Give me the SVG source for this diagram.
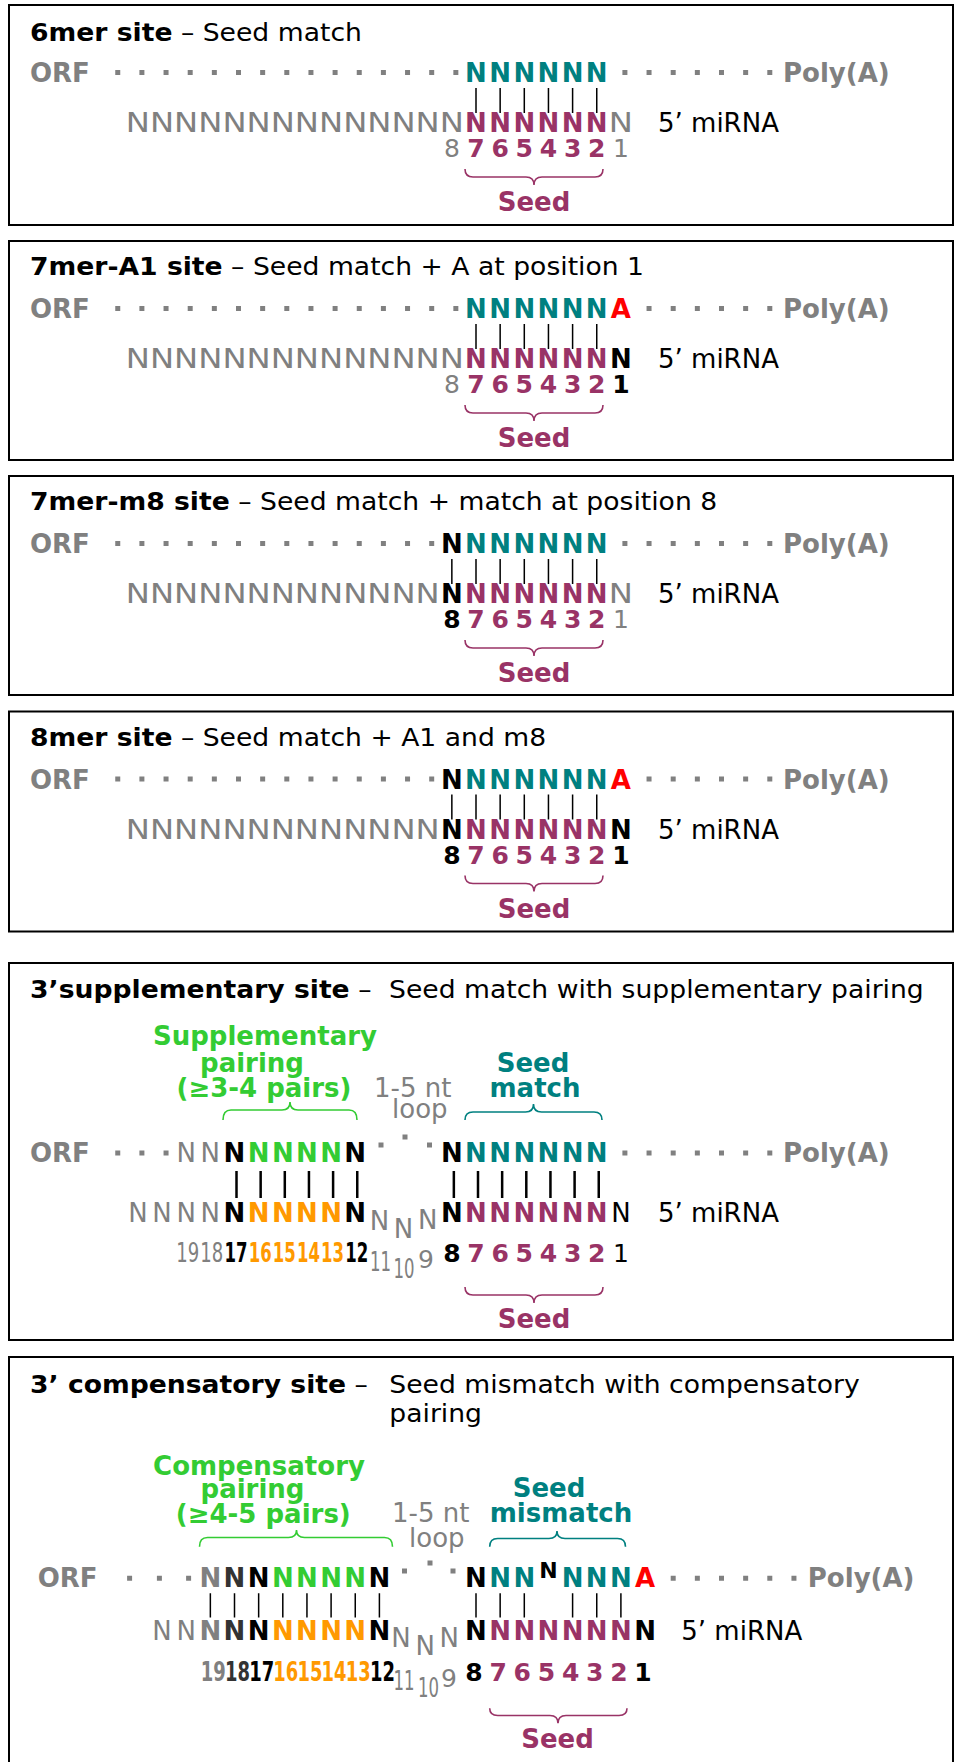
<svg xmlns="http://www.w3.org/2000/svg" width="954" height="1762" viewBox="0 0 954 1762">
<style>
text{font-family:'DejaVu Sans','Noto Sans',sans-serif;fill:#000}
.b{font-weight:bold}
.t{font-size:24.5px}
.l{font-size:26px}
.n{font-size:26px;text-anchor:middle}
.d{font-size:25px;text-anchor:middle}
.ds{font-size:27px}
.gray{fill:#808080}
.teal{fill:#008080}
.mag{fill:#993366}
.red{fill:#ff0000}
.grn{fill:#33cc33}
.org{fill:#ff9900}
.dk{fill:#333333}
.blk{fill:#000}
.box{fill:none;stroke:#000;stroke-width:2}
.dot{fill:#808080}
.pair{stroke:#000;stroke-width:1.5;fill:none}
.pair2{stroke:#000;stroke-width:2.5;fill:none}
.brace{fill:none;stroke-width:1.6}
.bm{stroke:#993366}
.bg{stroke:#33cc33}
.bt{stroke:#008080}
</style>
<rect width="954" height="1762" fill="#fff"/>

<!-- 6mer site -->
<g id="site-6mer">
<rect class="box" x="9" y="5" width="944" height="220"/>
<text class="t" transform="translate(30 41) scale(1.087 1)"><tspan class="b">6mer site</tspan> – Seed match</text>
<text class="l b gray" x="30" y="82">ORF</text>
<path class="dot" d="M115.25 70h5v5h-5zM139.4 70h5v5h-5zM163.55 70h5v5h-5zM187.7 70h5v5h-5zM211.85 70h5v5h-5zM236 70h5v5h-5zM260.15 70h5v5h-5zM284.3 70h5v5h-5zM308.45 70h5v5h-5zM332.6 70h5v5h-5zM356.75 70h5v5h-5zM380.9 70h5v5h-5zM405.05 70h5v5h-5zM429.2 70h5v5h-5zM453.35 70h5v5h-5zM622.4 70h5v5h-5zM646.55 70h5v5h-5zM670.7 70h5v5h-5zM694.85 70h5v5h-5zM719 70h5v5h-5zM743.15 70h5v5h-5zM767.3 70h5v5h-5z"/>
<text class="n b teal" y="82" x="476 500.15 524.3 548.45 572.6 596.75">NNNNNN</text>
<text class="l b gray" x="783" y="82">Poly(A)</text>
<text class="l gray" x="125.8" y="132" textLength="338.1" lengthAdjust="spacingAndGlyphs">NNNNNNNNNNNNNN</text>
<text class="n b mag" y="132" x="476 500.15 524.3 548.45 572.6 596.75">NNNNNN</text>
<text class="l gray" x="608.8" y="132" textLength="24.15" lengthAdjust="spacingAndGlyphs">N</text>
<text class="l" x="658" y="132">5’ miRNA</text>
<text class="d" y="157"><tspan class="gray" x="451.85">8</tspan><tspan class="b mag" x="476 500.15 524.3 548.45 572.6 596.75">765432</tspan><tspan class="gray" x="620.9">1</tspan></text>
<path class="brace bm" d="M465 169Q465 177 473 177L526 177Q534 177 534 185Q534 177 542 177L595 177Q603 177 603 169"/>
<text class="n b mag" x="534" y="211">Seed</text>
</g>

<!-- 7mer-A1 site -->
<g id="site-7mer-a1" transform="translate(0 236)">
<rect class="box" x="9" y="5" width="944" height="219"/>
<text class="t" transform="translate(30 39) scale(1.087 1)"><tspan class="b">7mer-A1 site</tspan> – Seed match + A at position 1</text>
<text class="l b gray" x="30" y="82">ORF</text>
<path class="dot" d="M115.25 70h5v5h-5zM139.4 70h5v5h-5zM163.55 70h5v5h-5zM187.7 70h5v5h-5zM211.85 70h5v5h-5zM236 70h5v5h-5zM260.15 70h5v5h-5zM284.3 70h5v5h-5zM308.45 70h5v5h-5zM332.6 70h5v5h-5zM356.75 70h5v5h-5zM380.9 70h5v5h-5zM405.05 70h5v5h-5zM429.2 70h5v5h-5zM453.35 70h5v5h-5zM646.55 70h5v5h-5zM670.7 70h5v5h-5zM694.85 70h5v5h-5zM719 70h5v5h-5zM743.15 70h5v5h-5zM767.3 70h5v5h-5z"/>
<text class="n b" y="82"><tspan class="teal" x="476 500.15 524.3 548.45 572.6 596.75">NNNNNN</tspan><tspan class="red" x="620.9">A</tspan></text>
<text class="l b gray" x="783" y="82">Poly(A)</text>
<text class="l gray" x="125.8" y="132" textLength="338.1" lengthAdjust="spacingAndGlyphs">NNNNNNNNNNNNNN</text>
<text class="n b" y="132"><tspan class="mag" x="476 500.15 524.3 548.45 572.6 596.75">NNNNNN</tspan><tspan x="620.9">N</tspan></text>
<text class="l" x="658" y="132">5’ miRNA</text>
<text class="d" y="157"><tspan class="gray" x="451.85">8</tspan><tspan class="b mag" x="476 500.15 524.3 548.45 572.6 596.75">765432</tspan><tspan class="b" x="620.9">1</tspan></text>
<path class="brace bm" d="M465 169Q465 177 473 177L526 177Q534 177 534 185Q534 177 542 177L595 177Q603 177 603 169"/>
<text class="n b mag" x="534" y="211">Seed</text>
</g>

<!-- 7mer-m8 site -->
<g id="site-7mer-m8" transform="translate(0 471)">
<rect class="box" x="9" y="5" width="944" height="219"/>
<text class="t" transform="translate(30 39) scale(1.087 1)"><tspan class="b">7mer-m8 site</tspan> – Seed match + match at position 8</text>
<text class="l b gray" x="30" y="82">ORF</text>
<path class="dot" d="M115.25 70h5v5h-5zM139.4 70h5v5h-5zM163.55 70h5v5h-5zM187.7 70h5v5h-5zM211.85 70h5v5h-5zM236 70h5v5h-5zM260.15 70h5v5h-5zM284.3 70h5v5h-5zM308.45 70h5v5h-5zM332.6 70h5v5h-5zM356.75 70h5v5h-5zM380.9 70h5v5h-5zM405.05 70h5v5h-5zM429.2 70h5v5h-5zM622.4 70h5v5h-5zM646.55 70h5v5h-5zM670.7 70h5v5h-5zM694.85 70h5v5h-5zM719 70h5v5h-5zM743.15 70h5v5h-5zM767.3 70h5v5h-5z"/>
<text class="n b" y="82"><tspan x="451.85">N</tspan><tspan class="teal" x="476 500.15 524.3 548.45 572.6 596.75">NNNNNN</tspan></text>
<text class="l b gray" x="783" y="82">Poly(A)</text>
<text class="l gray" x="125.8" y="132" textLength="313.95" lengthAdjust="spacingAndGlyphs">NNNNNNNNNNNNN</text>
<text class="n b" y="132"><tspan x="451.85">N</tspan><tspan class="mag" x="476 500.15 524.3 548.45 572.6 596.75">NNNNNN</tspan></text>
<text class="l gray" x="608.8" y="132" textLength="24.15" lengthAdjust="spacingAndGlyphs">N</text>
<text class="l" x="658" y="132">5’ miRNA</text>
<text class="d" y="157"><tspan class="b" x="451.85">8</tspan><tspan class="b mag" x="476 500.15 524.3 548.45 572.6 596.75">765432</tspan><tspan class="gray" x="620.9">1</tspan></text>
<path class="brace bm" d="M465 169Q465 177 473 177L526 177Q534 177 534 185Q534 177 542 177L595 177Q603 177 603 169"/>
<text class="n b mag" x="534" y="211">Seed</text>
</g>

<!-- 8mer site -->
<g id="site-8mer" transform="translate(0 706.5)">
<rect class="box" x="9" y="5" width="944" height="220"/>
<text class="t" transform="translate(30 39) scale(1.087 1)"><tspan class="b">8mer site</tspan> – Seed match + A1 and m8</text>
<text class="l b gray" x="30" y="82">ORF</text>
<path class="dot" d="M115.25 70h5v5h-5zM139.4 70h5v5h-5zM163.55 70h5v5h-5zM187.7 70h5v5h-5zM211.85 70h5v5h-5zM236 70h5v5h-5zM260.15 70h5v5h-5zM284.3 70h5v5h-5zM308.45 70h5v5h-5zM332.6 70h5v5h-5zM356.75 70h5v5h-5zM380.9 70h5v5h-5zM405.05 70h5v5h-5zM429.2 70h5v5h-5zM646.55 70h5v5h-5zM670.7 70h5v5h-5zM694.85 70h5v5h-5zM719 70h5v5h-5zM743.15 70h5v5h-5zM767.3 70h5v5h-5z"/>
<text class="n b" y="82"><tspan x="451.85">N</tspan><tspan class="teal" x="476 500.15 524.3 548.45 572.6 596.75">NNNNNN</tspan><tspan class="red" x="620.9">A</tspan></text>
<text class="l b gray" x="783" y="82">Poly(A)</text>
<text class="l gray" x="125.8" y="132" textLength="313.95" lengthAdjust="spacingAndGlyphs">NNNNNNNNNNNNN</text>
<text class="n b" y="132"><tspan x="451.85">N</tspan><tspan class="mag" x="476 500.15 524.3 548.45 572.6 596.75">NNNNNN</tspan><tspan x="620.9">N</tspan></text>
<text class="l" x="658" y="132">5’ miRNA</text>
<text class="d" y="157"><tspan class="b" x="451.85">8</tspan><tspan class="b mag" x="476 500.15 524.3 548.45 572.6 596.75">765432</tspan><tspan class="b" x="620.9">1</tspan></text>
<path class="brace bm" d="M465 169Q465 177 473 177L526 177Q534 177 534 185Q534 177 542 177L595 177Q603 177 603 169"/>
<text class="n b mag" x="534" y="211">Seed</text>
</g>

<!-- 3' supplementary site -->
<g id="site-3p-supplementary">
<rect class="box" x="9" y="963" width="944" height="377"/>
<text class="t" transform="translate(30 998.3) scale(1.087 1)"><tspan class="b">3’supplementary site</tspan> –</text>
<text class="t" transform="translate(389 998.3) scale(1.087 1)">Seed match with supplementary pairing</text>
<text class="n b grn" x="265" y="1045">Supplementary</text>
<text class="n b grn" x="252" y="1071.5">pairing</text>
<text class="n b grn" x="264" y="1097">(≥3-4 pairs)</text>
<text class="l gray" x="374" y="1097">1-5 nt</text>
<text class="l gray" x="392" y="1118">loop</text>
<text class="n b teal" x="533" y="1071.5">Seed</text>
<text class="n b teal" x="535" y="1096.7">match</text>
<path class="brace bg" d="M223 1120Q223 1110 231 1110L282 1110Q290 1110 290 1102Q290 1110 298 1110L349 1110Q357 1110 357 1120"/>
<path class="brace bt" d="M465 1120Q465 1112 473 1112L525.5 1112Q533.5 1112 533.5 1104Q533.5 1112 541.5 1112L594 1112Q602 1112 602 1120"/>
<text class="l b gray" x="30" y="1162">ORF</text>
<path class="dot" d="M115.25 1150.5h5v5h-5zM139.4 1150.5h5v5h-5zM163.55 1150.5h5v5h-5zM378.5 1142.5h5v5h-5zM402.5 1134.5h5v5h-5zM427 1142.5h5v5h-5zM622.4 1150.5h5v5h-5zM646.55 1150.5h5v5h-5zM670.7 1150.5h5v5h-5zM694.85 1150.5h5v5h-5zM719 1150.5h5v5h-5zM743.15 1150.5h5v5h-5zM767.3 1150.5h5v5h-5z"/>
<text class="n gray" y="1162" x="186.2 210.35">NN</text>
<text class="n b" y="1162"><tspan x="234.5">N</tspan><tspan class="grn" x="258.65 282.8 306.95 331.1">NNNN</tspan><tspan x="355.25 451.85">NN</tspan><tspan class="teal" x="476 500.15 524.3 548.45 572.6 596.75">NNNNNN</tspan></text>
<text class="l b gray" x="783" y="1162">Poly(A)</text>
<text class="n gray" y="1222" x="137.9 162.05 186.2 210.35">NNNN</text>
<text class="n b" y="1222"><tspan x="234.5">N</tspan><tspan class="org" x="258.65 282.8 306.95 331.1">NNNN</tspan><tspan x="355.25 451.85">NN</tspan><tspan class="mag" x="476 500.15 524.3 548.45 572.6 596.75">NNNNNN</tspan></text>
<text class="n gray" x="379.4" y="1230">N</text>
<text class="n gray" x="403.55" y="1237.5">N</text>
<text class="n gray" x="427.7" y="1229">N</text>
<text class="n" x="620.9" y="1222">N</text>
<text class="l" x="658" y="1222">5’ miRNA</text>
<text class="ds gray" x="176.2" y="1262" textLength="23" lengthAdjust="spacingAndGlyphs">19</text>
<text class="ds gray" x="200.35" y="1262" textLength="23" lengthAdjust="spacingAndGlyphs">18</text>
<text class="ds b" x="224.5" y="1262" textLength="23" lengthAdjust="spacingAndGlyphs">17</text>
<text class="ds b org" x="248.65" y="1262" textLength="23" lengthAdjust="spacingAndGlyphs">16</text>
<text class="ds b org" x="272.8" y="1262" textLength="23" lengthAdjust="spacingAndGlyphs">15</text>
<text class="ds b org" x="296.95" y="1262" textLength="23" lengthAdjust="spacingAndGlyphs">14</text>
<text class="ds b org" x="321.1" y="1262" textLength="23" lengthAdjust="spacingAndGlyphs">13</text>
<text class="ds b" x="345.25" y="1262" textLength="23" lengthAdjust="spacingAndGlyphs">12</text>
<text class="ds gray" x="370" y="1271" textLength="21" lengthAdjust="spacingAndGlyphs">11</text>
<text class="ds gray" x="393.5" y="1278" textLength="21" lengthAdjust="spacingAndGlyphs">10</text>
<text class="d gray" x="426" y="1268">9</text>
<text class="d" y="1262"><tspan class="b" x="451.85">8</tspan><tspan class="b mag" x="476 500.15 524.3 548.45 572.6 596.75">765432</tspan><tspan x="620.9">1</tspan></text>
<path class="brace bm" d="M465 1287Q465 1295 473 1295L526 1295Q534 1295 534 1303Q534 1295 542 1295L595 1295Q603 1295 603 1287"/>
<text class="n b mag" x="534" y="1328.3">Seed</text>
</g>

<!-- 3' compensatory site -->
<g id="site-3p-compensatory">
<rect class="box" x="9" y="1357" width="944" height="420"/>
<text class="t" transform="translate(30 1392.7) scale(1.087 1)"><tspan class="b">3’ compensatory site</tspan> –</text>
<text class="t" transform="translate(389.3 1392.7) scale(1.087 1)">Seed mismatch with compensatory</text>
<text class="t" transform="translate(389.3 1421.7) scale(1.087 1)">pairing</text>
<text class="n b grn" x="259" y="1475">Compensatory</text>
<text class="n b grn" x="252.5" y="1498">pairing</text>
<text class="n b grn" x="263.3" y="1522.5">(≥4-5 pairs)</text>
<text class="l gray" x="392" y="1521.7">1-5 nt</text>
<text class="l gray" x="409" y="1546.7">loop</text>
<text class="n b teal" x="549" y="1496.7">Seed</text>
<text class="n b teal" x="561" y="1521.7">mismatch</text>
<path class="brace bg" d="M199.5 1546.7Q199.5 1537.5 207.5 1537.5L288.5 1537.5Q296.5 1537.5 296.5 1530Q296.5 1537.5 304.5 1537.5L384.5 1537.5Q392.5 1537.5 392.5 1546.7"/>
<path class="brace bt" d="M489.7 1546.7Q489.7 1538.5 497.7 1538.5L549 1538.5Q557 1538.5 557 1531Q557 1538.5 565 1538.5L617.5 1538.5Q625.5 1538.5 625.5 1546.7"/>
<text class="l b gray" x="37.7" y="1587.3">ORF</text>
<path class="dot" d="M127.1 1575.8h5v5h-5zM156.9 1575.8h5v5h-5zM186.1 1575.8h5v5h-5zM402 1568.5h5v5h-5zM427.5 1560.5h5v5h-5zM450.5 1568.5h5v5h-5zM670.7 1575.8h5v5h-5zM694.85 1575.8h5v5h-5zM719 1575.8h5v5h-5zM743.15 1575.8h5v5h-5zM767.3 1575.8h5v5h-5zM791.45 1575.8h5v5h-5z"/>
<text class="n b" y="1587.3"><tspan class="gray" x="210.35">N</tspan><tspan class="dk" x="234.5">N</tspan><tspan x="258.65">N</tspan><tspan class="grn" x="282.8 306.95 331.1 355.25">NNNN</tspan><tspan x="379.4 476">NN</tspan><tspan class="teal" x="500.15 524.3">NN</tspan><tspan class="teal" x="572.6 596.75 620.9">NNN</tspan><tspan class="red" x="645.05">A</tspan></text>
<text class="b" x="548.45" y="1578.3" font-size="22" text-anchor="middle">N</text>
<text class="l b gray" x="807.8" y="1587.3">Poly(A)</text>
<text class="n gray" y="1640" x="162.05 186.2">NN</text>
<text class="n b" y="1640"><tspan class="gray" x="210.35">N</tspan><tspan class="dk" x="234.5">N</tspan><tspan x="258.65">N</tspan><tspan class="org" x="282.8 306.95 331.1 355.25">NNNN</tspan><tspan x="379.4 476">NN</tspan><tspan class="mag" x="500.15 524.3 548.45 572.6 596.75 620.9">NNNNNN</tspan><tspan x="645.05">N</tspan></text>
<text class="n gray" x="401" y="1647">N</text>
<text class="n gray" x="425.3" y="1655">N</text>
<text class="n gray" x="449.3" y="1647">N</text>
<text class="l" x="681.3" y="1640">5’ miRNA</text>
<text class="ds b gray" x="200.85" y="1681" textLength="25" lengthAdjust="spacingAndGlyphs">19</text>
<text class="ds b dk" x="225" y="1681" textLength="25" lengthAdjust="spacingAndGlyphs">18</text>
<text class="ds b" x="249.15" y="1681" textLength="25" lengthAdjust="spacingAndGlyphs">17</text>
<text class="ds b org" x="273.3" y="1681" textLength="25" lengthAdjust="spacingAndGlyphs">16</text>
<text class="ds b org" x="297.45" y="1681" textLength="25" lengthAdjust="spacingAndGlyphs">15</text>
<text class="ds b org" x="321.6" y="1681" textLength="25" lengthAdjust="spacingAndGlyphs">14</text>
<text class="ds b org" x="345.75" y="1681" textLength="25" lengthAdjust="spacingAndGlyphs">13</text>
<text class="ds b" x="369.9" y="1681" textLength="25" lengthAdjust="spacingAndGlyphs">12</text>
<text class="ds gray" x="393.5" y="1690" textLength="21" lengthAdjust="spacingAndGlyphs">11</text>
<text class="ds gray" x="418" y="1697" textLength="21" lengthAdjust="spacingAndGlyphs">10</text>
<text class="d gray" x="449" y="1687">9</text>
<text class="d b" y="1681"><tspan x="474">8</tspan><tspan class="mag" x="498.15 522.3 546.45 570.6 594.75 618.9">765432</tspan><tspan x="643">1</tspan></text>
<path class="brace bm" d="M489.7 1708.3Q489.7 1715.5 497.7 1715.5L550 1715.5Q558 1715.5 558 1723.3Q558 1715.5 566 1715.5L619 1715.5Q627 1715.5 627 1708.3"/>
<text class="n b mag" x="557.5" y="1748.3">Seed</text>
</g>

<!-- base-pair ticks between target strand and miRNA -->
<g id="connectors">
<path class="pair" d="M476 88V113M500.15 88V113M524.3 88V113M548.45 88V113M572.6 88V113M596.75 88V113"/>
<path class="pair" d="M476 324V349M500.15 324V349M524.3 324V349M548.45 324V349M572.6 324V349M596.75 324V349"/>
<path class="pair" d="M451.85 559V584M476 559V584M500.15 559V584M524.3 559V584M548.45 559V584M572.6 559V584M596.75 559V584"/>
<path class="pair" d="M451.85 794.5V819.5M476 794.5V819.5M500.15 794.5V819.5M524.3 794.5V819.5M548.45 794.5V819.5M572.6 794.5V819.5M596.75 794.5V819.5"/>
<path class="pair2" d="M236.5 1171V1198M260.65 1171V1198M284.8 1171V1198M308.95 1171V1198M333.1 1171V1198M357.25 1171V1198M453.85 1171V1198M478 1171V1198M502.15 1171V1198M526.3 1171V1198M550.45 1171V1198M574.6 1171V1198M598.75 1171V1198"/>
<path class="pair" d="M210.35 1593.3V1617.5M234.5 1593.3V1617.5M258.65 1593.3V1617.5M282.8 1593.3V1617.5M306.95 1593.3V1617.5M331.1 1593.3V1617.5M355.25 1593.3V1617.5M379.4 1593.3V1617.5M476 1593.3V1617.5M500.15 1593.3V1617.5M524.3 1593.3V1617.5M572.6 1593.3V1617.5M596.75 1593.3V1617.5M620.9 1593.3V1617.5"/>
</g>
</svg>
